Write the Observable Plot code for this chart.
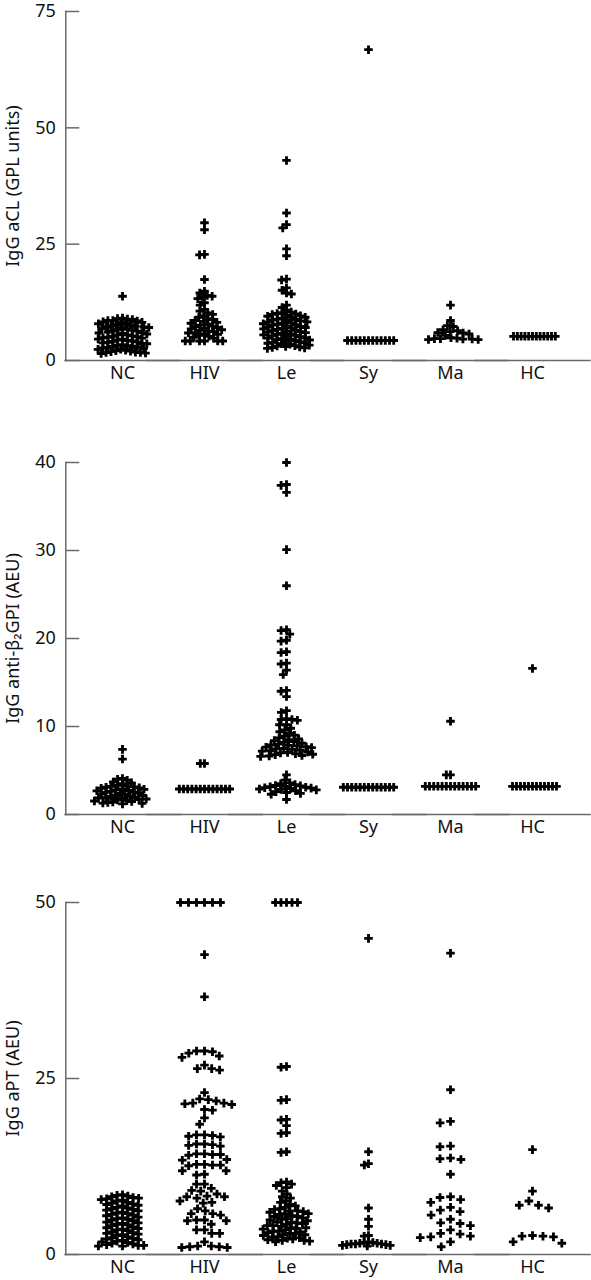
<!DOCTYPE html>
<html><head><meta charset="utf-8">
<script src="https://cdn.jsdelivr.net/npm/d3@7"></script>
<script src="https://cdn.jsdelivr.net/npm/@observablehq/plot@0.6"></script>
<style>body{margin:0;background:#fff;} #chart svg{display:block;}</style>
</head><body><div id="chart"></div>
<script>
const categories = ["NC", "HIV", "Le", "Sy", "Ma", "HC"];

// Panel 1: IgG aCL (GPL units)
const aclTicks = [0, 25, 50, 75];
const aclNC = [13.8, 9.1, 9.0, 8.9, 8.8, 8.6, 8.6, 8.5, 8.3, 8.2, 8.1, 7.9, 7.9, 7.7, 7.6, 7.5, 7.4, 7.2, 7.2, 7.1, 6.9, 6.8, 6.7, 6.6, 6.5, 6.3, 6.3, 6.1, 6.0, 5.9, 5.8, 5.7, 5.5, 5.5, 5.3, 5.2, 5.1, 5.0, 4.9, 4.8, 4.6, 4.6, 4.4, 4.3, 4.2, 4.1, 4.0, 3.9, 3.8, 3.6, 3.6, 3.4, 3.3, 3.2, 3.1, 3.0, 2.9, 2.8, 2.7, 2.6, 2.4, 2.4, 2.2, 2.1, 2.0, 1.9, 1.8, 1.7, 1.7, 1.6, 1.5];
const aclHIV = [29.6, 28.1, 22.8, 22.7, 17.4, 14.9, 14.5, 14.0, 13.8, 13.6, 13.3, 12.4, 11.9, 11.0, 10.6, 10.2, 9.9, 9.6, 9.3, 9.0, 8.8, 8.6, 8.4, 8.2, 8.0, 7.8, 7.6, 7.4, 7.3, 7.1, 6.9, 6.8, 6.6, 6.5, 6.3, 6.2, 6.0, 5.9, 5.7, 5.6, 5.4, 5.2, 5.0, 4.8, 4.2, 4.2, 4.2, 4.2, 4.2, 4.2];
const aclLe = [43.0, 31.7, 29.2, 28.5, 24.0, 22.5, 17.5, 17.3, 15.6, 15.1, 14.5, 14.3, 11.9, 11.4, 10.8, 10.4, 10.3, 10.1, 10.0, 9.9, 9.7, 9.6, 9.5, 9.3, 9.3, 9.1, 8.9, 8.8, 8.7, 8.6, 8.5, 8.3, 8.3, 8.1, 8.0, 7.9, 7.8, 7.7, 7.6, 7.4, 7.3, 7.2, 7.1, 7.0, 6.9, 6.8, 6.7, 6.5, 6.4, 6.3, 6.2, 6.1, 6.0, 5.8, 5.7, 5.6, 5.5, 5.4, 5.3, 5.2, 5.1, 4.9, 4.8, 4.7, 4.6, 4.5, 4.4, 4.3, 4.1, 4.0, 3.9, 3.8, 3.7, 3.6, 3.5, 3.3, 3.2, 3.1, 3.0, 2.9, 2.8, 2.7, 2.6];
const aclSy = [66.8, 4.3, 4.3, 4.3, 4.3, 4.3, 4.3, 4.3, 4.3, 4.3, 4.3, 4.3, 4.3];
const aclMa = [11.9, 8.6, 7.5, 7.3, 6.6, 6.4, 6.2, 6.0, 5.9, 5.7, 5.4, 4.9, 4.8, 4.7, 4.7, 4.6, 4.6, 4.5, 4.5];
const aclHC = [5.2, 5.2, 5.2, 5.2, 5.2, 5.2, 5.2, 5.2, 5.2, 5.2, 5.2, 5.2];

// Panel 2: IgG anti-beta2GPI (AEU)
const b2Ticks = [0, 10, 20, 30, 40];
const b2NC = [7.4, 6.3, 4.1, 4.0, 3.9, 3.7, 3.6, 3.5, 3.32, 3.27, 3.2, 3.14, 3.1, 3.03, 2.98, 2.9, 2.86, 2.8, 2.73, 2.69, 2.62, 2.55, 2.51, 2.44, 2.4, 2.33, 2.27, 2.21, 2.16, 2.1, 2.04, 1.98, 1.92, 1.87, 1.8, 1.76, 1.7, 1.64, 1.58, 1.53, 1.47, 1.42, 1.36, 1.3, 1.26, 1.21];
const b2HIV = [5.8, 5.8, 2.9, 2.9, 2.9, 2.9, 2.9, 2.9, 2.9, 2.9, 2.9, 2.9, 2.9, 2.9, 2.9];
const b2Le = [40.0, 37.5, 37.4, 36.6, 30.1, 26.0, 21.0, 20.9, 20.5, 19.8, 19.7, 18.5, 18.4, 17.2, 17.1, 16.4, 15.9, 14.1, 14.0, 13.4, 11.8, 11.6, 10.9, 10.8, 10.8, 10.7, 10.2, 10.2, 9.8, 9.6, 9.4, 9.2, 9.0, 8.9, 8.7, 8.6, 8.5, 8.4, 8.3, 8.2, 8.1, 8.0, 7.9, 7.85, 7.8, 7.7, 7.65, 7.6, 7.5, 7.45, 7.4, 7.3, 7.25, 7.2, 7.1, 7.05, 7.0, 6.9, 6.85, 6.8, 6.7, 6.65, 6.6, 4.5, 3.9, 3.6, 3.5, 3.4, 3.3, 3.25, 3.2, 3.15, 3.1, 3.05, 3.0, 2.95, 2.9, 2.85, 2.8, 2.7, 2.6, 2.5, 2.4, 2.3, 1.7];
const b2Sy = [3.1, 3.1, 3.1, 3.1, 3.1, 3.1, 3.1, 3.1, 3.1, 3.1, 3.1, 3.1, 3.1];
const b2Ma = [10.6, 4.5, 4.5, 3.2, 3.2, 3.2, 3.2, 3.2, 3.2, 3.2, 3.2, 3.2, 3.2, 3.2, 3.2, 3.2];
const b2HC = [16.6, 3.2, 3.2, 3.2, 3.2, 3.2, 3.2, 3.2, 3.2, 3.2, 3.2, 3.2, 3.2];

// Panel 3: IgG aPT (AEU)
const aptTicks = [0, 25, 50];
const aptNC = [8.5, 8.4, 8.3, 8.2, 8.1, 8.0, 7.9, 7.8, 7.7, 7.6, 7.4, 7.3, 7.2, 7.1, 7.0, 6.9, 6.7, 6.6, 6.5, 6.4, 6.3, 6.2, 6.0, 5.9, 5.8, 5.7, 5.6, 5.5, 5.3, 5.2, 5.1, 5.0, 4.9, 4.8, 4.6, 4.5, 4.4, 4.3, 4.2, 4.1, 3.9, 3.8, 3.7, 3.6, 3.5, 3.4, 3.2, 3.1, 3.0, 2.9, 2.8, 2.7, 2.5, 2.4, 2.3, 2.2, 2.1, 2.0, 1.9, 1.8, 1.7, 1.6, 1.5, 1.4, 1.3, 1.3, 1.2, 1.2];
const aptHIV = [50, 50, 50, 50, 50, 50, 42.6, 36.6, 28.9, 28.9, 28.8, 28.6, 28.2, 28.0, 26.9, 26.4, 26.4, 26.2, 23.0, 22.1, 22.0, 21.8, 21.5, 21.5, 21.4, 21.3, 20.6, 20.5, 19.4, 18.5, 17.0, 17.0, 16.9, 16.8, 16.7, 15.7, 15.7, 15.6, 15.5, 15.4, 14.3, 14.3, 14.2, 14.2, 14.1, 13.5, 13.4, 12.8, 12.8, 12.7, 12.7, 12.6, 11.9, 11.9, 11.4, 11.3, 10.0, 10.0, 9.4, 9.1, 9.0, 8.6, 8.3, 8.2, 8.2, 8.0, 7.6, 7.4, 7.3, 6.5, 6.2, 5.8, 5.8, 5.6, 4.9, 4.9, 4.8, 4.8, 4.3, 3.5, 3.5, 3.0, 3.0, 1.8, 1.2, 1.2, 1.1, 1.1, 1.0, 1.0];
const aptLe = [50, 50, 50, 50, 50, 26.7, 26.6, 22.0, 21.9, 19.2, 19.1, 18.3, 17.3, 17.2, 14.6, 14.5, 10.3, 10.2, 10.0, 9.8, 9.5, 9.0, 8.6, 8.2, 8.0, 7.6, 7.4, 7.1, 6.9, 6.7, 6.5, 6.4, 6.2, 6.2, 6.1, 6.0, 5.8, 5.8, 5.7, 5.5, 5.4, 5.4, 5.2, 5.1, 5.0, 4.9, 4.8, 4.6, 4.6, 4.5, 4.4, 4.3, 4.1, 4.1, 4.0, 3.8, 3.8, 3.7, 3.6, 3.5, 3.3, 3.3, 3.2, 3.1, 3.0, 2.9, 2.8, 2.8, 2.7, 2.5, 2.5, 2.4, 2.3, 2.2, 2.1, 2.0, 2.0, 1.9, 1.8];
const aptSy = [44.9, 14.6, 12.9, 12.7, 6.6, 5.0, 4.0, 2.7, 2.6, 1.8, 1.7, 1.7, 1.6, 1.6, 1.5, 1.5, 1.5, 1.4, 1.4, 1.3, 1.3, 1.2];
const aptMa = [42.8, 23.4, 18.9, 18.7, 15.4, 15.3, 13.7, 13.6, 13.5, 11.4, 8.2, 8.1, 7.8, 7.4, 6.7, 6.3, 6.1, 5.6, 5.0, 4.5, 4.4, 4.1, 3.5, 3.0, 2.9, 2.6, 2.5, 2.4, 1.8, 1.1];
const aptHC = [14.9, 9.0, 7.6, 7.0, 7.0, 6.6, 2.7, 2.6, 2.6, 2.5, 1.8, 1.6];

// styling / layout (not data)
const ink = "#111";
const axisGrey = "#6a6a6a";
const font = "Noto Sans";
const axisX = 64;          // where the y axis line sits
const facetLeft = 79.7;    // left edge of first category band
const facetRight = 16.7;   // right margin after last band
const shift = facetLeft - axisX;

function rows(groups) {
  return categories.flatMap(c => groups[c].map(v => ({group: c, value: v})));
}

function panel({groups, spacing, domain, ticks, label, height, marginTop, marginBottom}) {
  const data = rows(groups);
  return Plot.plot({
    width: 591,
    height,
    marginTop,
    marginBottom,
    marginLeft: facetLeft,
    marginRight: facetRight,
    style: {fontFamily: font, fontSize: "18px", color: ink, background: "white", overflow: "visible"},
    fx: {domain: categories, paddingInner: 0, paddingOuter: 0, label: null},
    y: {domain, label: null},
    marks: [
      Plot.ruleY([0], {stroke: axisGrey, strokeWidth: 1.5, insetLeft: -shift - 1, insetRight: -facetRight - 1}),
      Plot.frame({anchor: "left", facetAnchor: "left", dx: -shift, stroke: axisGrey, strokeWidth: 1.5}),
      Plot.axisY({ticks, tickSize: -14, tickPadding: 24, dx: -shift, stroke: axisGrey, strokeWidth: 1.5, fill: ink, fontSize: 18,
        label, labelAnchor: "center", labelOffset: 75, labelArrow: "none"}),
      Plot.axisFx({anchor: "bottom", tickSize: 0, tickPadding: 6, label: null, fontSize: 18, fill: ink}),
      ...categories.map(c => Plot.dot(
        data.filter(d => d.group === c),
        Plot.dodgeX({anchor: "middle", padding: 0, r: spacing[c] / 2},
          {fx: "group", y: "value", r: 3.6, symbol: "cross", fill: "#000", stroke: "none"})
      ))
    ]
  });
}

const chart = document.getElementById("chart");
chart.append(panel({
  groups: {NC: aclNC, HIV: aclHIV, Le: aclLe, Sy: aclSy, Ma: aclMa, HC: aclHC},
  spacing: {NC: 5, HIV: 5, Le: 5, Sy: 4.2, Ma: 6, HC: 3.8},
  domain: [0, 75], ticks: aclTicks, label: "IgG aCL (GPL units)",
  height: 395, marginTop: 11, marginBottom: 35
}));
chart.append(panel({
  groups: {NC: b2NC, HIV: b2HIV, Le: b2Le, Sy: b2Sy, Ma: b2Ma, HC: b2HC},
  spacing: {NC: 5, HIV: 4.2, Le: 5.5, Sy: 4.2, Ma: 4.2, HC: 4},
  domain: [0, 40], ticks: b2Ticks, label: "IgG anti-β₂GPI (AEU)",
  height: 454, marginTop: 67, marginBottom: 35
}));
chart.append(panel({
  groups: {NC: aptNC, HIV: aptHIV, Le: aptLe, Sy: aptSy, Ma: aptMa, HC: aptHC},
  spacing: {NC: 5.5, HIV: 8, Le: 5.5, Sy: 4.4, Ma: 10.5, HC: 10.5},
  domain: [0, 50], ticks: aptTicks, label: "IgG aPT (AEU)",
  height: 431, marginTop: 53, marginBottom: 26
}));
</script>
</body></html>
